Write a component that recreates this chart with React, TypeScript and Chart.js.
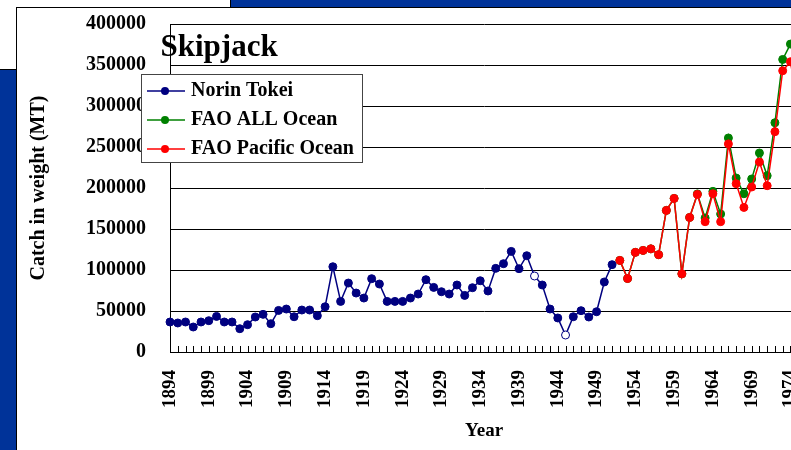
import React, { useEffect, useRef } from 'react';
import { Chart, registerables } from 'chart.js';

Chart.register(...registerables);

// ---- categories ----
const FIRST_YEAR = 1894;
const LAST_YEAR = 1975;
const years: number[] = Array.from({ length: LAST_YEAR - FIRST_YEAR + 1 }, (_, i) => FIRST_YEAR + i);

// ---- series values (metric tonnes) ----
// Norin Tokei, 1894 .. 1951
const norinTokei: number[] = [
  36600, 35400, 36600, 30500, 36600, 38200, 43400, 36600, 36600, 28400,
  33300, 42700, 45900, 34500, 50700, 52400, 43000, 51200, 51200, 44300,
  55200, 104000, 61700, 84100, 71900, 65800, 89400, 82900, 61700, 61700,
  61700, 65800, 70700, 88200, 78800, 73500, 70700, 81700, 69000, 78400,
  86900, 74400, 102000, 107700, 122700, 101600, 117400, 92700, 81700, 52400,
  41500, 20700, 43000, 50400, 42700, 49100, 85400, 106500,
];
const norinHollowYears: number[] = [1941, 1945];

// FAO series, 1952 .. 1975
const FAO_FIRST_YEAR = 1952;
const faoAllOcean: number[] = [
  111700, 89600, 121500, 123900, 125800, 118700, 172700, 187300, 95300, 164100,
  192800, 163400, 195900, 168300, 261000, 212200, 193000, 211000, 242700, 215000,
  279600, 356800, 375500, 345000,
];
const faoPacificOcean: number[] = [
  111700, 89600, 121500, 123900, 125800, 118700, 172700, 187300, 95300, 164100,
  192200, 158900, 193000, 158900, 253800, 205300, 176300, 201200, 231700, 202800,
  268700, 343000, 354000, 298000,
];

// ---- axis settings ----
const Y_MIN = 0;
const Y_MAX = 400000;
const Y_STEP = 50000;
const LABEL_EVERY = 5;

const FONT = "'Liberation Serif', 'Times New Roman', serif";
const NAVY = '#000080';
const GREEN = '#008000';
const RED = '#ff0000';

// canvas is shifted up by this many px on the page
const SHIFT = 12;

export default function App() {
  const ref = useRef<HTMLCanvasElement>(null);

  useEffect(() => {
    const canvas = ref.current;
    if (!canvas) return;

    const norinData = years.map((_, i) => (i < norinTokei.length ? norinTokei[i] : null));
    const faoAllData = years.map((y) => (y >= FAO_FIRST_YEAR ? faoAllOcean[y - FAO_FIRST_YEAR] ?? null : null));
    const faoPacData = years.map((y) => (y >= FAO_FIRST_YEAR ? faoPacificOcean[y - FAO_FIRST_YEAR] ?? null : null));
    const norinFill = years.map((y) => (norinHollowYears.includes(y) ? '#ffffff' : NAVY));

    const overlay = {
      id: 'overlay',
      beforeDatasetsDraw(chart: any) {
        const { ctx, chartArea, scales } = chart;
        const xs = scales.x;
        ctx.save();
        ctx.strokeStyle = '#000';
        ctx.lineWidth = 1;
        ctx.beginPath();
        for (let i = 0; i < years.length; i++) {
          const px = Math.round(xs.getPixelForValue(i)) + 0.5;
          ctx.moveTo(px, chartArea.bottom);
          ctx.lineTo(px, chartArea.bottom - 6);
        }
        ctx.stroke();
        ctx.restore();
      },
      afterDraw(chart: any) {
        const { ctx } = chart;
        ctx.save();
        ctx.translate(0, SHIFT);
        // title
        ctx.fillStyle = '#000';
        ctx.font = `bold 31px ${FONT}`;
        ctx.textBaseline = 'alphabetic';
        ctx.textAlign = 'left';
        ctx.fillText('Skipjack', 160.5, 56);

        // legend box
        const bx = 141, by = 74, bw = 222, bh = 89;
        ctx.fillStyle = '#fff';
        ctx.fillRect(bx, by, bw, bh);
        ctx.strokeStyle = '#444';
        ctx.lineWidth = 1;
        ctx.strokeRect(bx + 0.5, by + 0.5, bw - 1, bh - 1);
        const order = [0, 1, 2];
        const rowsY = [91, 120, 149];
        order.forEach((di, r) => {
          const ds = chart.data.datasets[di];
          const cy = rowsY[r];
          ctx.strokeStyle = ds.borderColor;
          ctx.lineWidth = 1.5;
          ctx.beginPath();
          ctx.moveTo(147, cy);
          ctx.lineTo(185, cy);
          ctx.stroke();
          ctx.fillStyle = ds.borderColor;
          ctx.beginPath();
          ctx.arc(165, cy, 4, 0, Math.PI * 2);
          ctx.fill();
          ctx.fillStyle = '#000';
          ctx.font = `bold 20px ${FONT}`;
          ctx.textBaseline = 'middle';
          ctx.fillText(ds.label, 191, cy);
        });
        ctx.restore();
      },
    };

    const chart = new Chart(canvas, {
      type: 'line',
      data: {
        labels: years.map(String),
        datasets: [
          {
            label: 'Norin Tokei',
            data: norinData,
            borderColor: NAVY,
            backgroundColor: NAVY,
            pointBackgroundColor: norinFill,
            pointBorderColor: NAVY,
            pointRadius: 4,
            pointBorderWidth: 1,
            borderWidth: 1.5,
            order: 2,
          },
          {
            label: 'FAO ALL Ocean',
            data: faoAllData,
            borderColor: GREEN,
            backgroundColor: GREEN,
            pointBackgroundColor: GREEN,
            pointBorderColor: GREEN,
            pointRadius: 4,
            pointBorderWidth: 1,
            borderWidth: 1.5,
            order: 1,
          },
          {
            label: 'FAO Pacific Ocean',
            data: faoPacData,
            borderColor: RED,
            backgroundColor: RED,
            pointBackgroundColor: RED,
            pointBorderColor: RED,
            pointRadius: 4,
            pointBorderWidth: 1,
            borderWidth: 1.5,
            order: 0,
          },
        ],
      },
      options: {
        responsive: false,
        animation: false,
        events: [],
        layout: { padding: { top: 12, right: 10, bottom: 0, left: 0 } },
        plugins: {
          legend: { display: false },
          title: { display: false },
          tooltip: { enabled: false },
        },
        scales: {
          x: {
            type: 'category',
            offset: false,
            grid: { display: true, drawOnChartArea: false, drawTicks: false, color: '#000' },
            border: { display: true, color: '#000', width: 1 },
            ticks: {
              autoSkip: false,
              minRotation: 90,
              maxRotation: 90,
              padding: 18,
              color: '#000',
              font: { family: FONT, size: 19, weight: 'bold' },
              callback: (_v: any, i: number) => ((years[i] - FIRST_YEAR) % LABEL_EVERY === 0 ? String(years[i]) : ''),
            },
            title: {
              display: true,
              text: 'Year',
              color: '#000',
              font: { family: FONT, size: 19, weight: 'bold' },
              padding: { top: 0, bottom: 8 },
            },
            afterFit: (scale: any) => {
              scale.height = 98;
            },
          },
          y: {
            min: Y_MIN,
            max: Y_MAX,
            grid: { color: '#000', lineWidth: 1, drawTicks: false },
            border: { display: true, color: '#000', width: 1 },
            ticks: {
              stepSize: Y_STEP,
              padding: 24,
              color: '#000',
              font: { family: FONT, size: 20, weight: 'bold' },
              callback: (v: any) => String(v),
            },
            title: {
              display: true,
              text: 'Catch in weight (MT)',
              color: '#000',
              font: { family: FONT, size: 20, weight: 'bold' },
              padding: { top: 27, bottom: 0 },
            },
            afterFit: (scale: any) => {
              scale.width = 170;
            },
          },
        },
      },
      plugins: [overlay],
    });

    return () => chart.destroy();
  }, []);

  return (
    <div
      style={{
        position: 'fixed',
        left: 0,
        top: 0,
        width: 791,
        height: 450,
        overflow: 'hidden',
        background: '#003399',
      }}
    >
      <div
        style={{
          position: 'absolute',
          left: -1,
          top: -1,
          width: 232,
          height: 71,
          background: '#ffffff',
          border: '1px solid #000',
          boxSizing: 'border-box',
        }}
      />
      <div
        style={{
          position: 'absolute',
          left: 16,
          top: 7,
          width: 860,
          height: 470,
          background: '#ffffff',
          border: '1px solid #000',
          boxSizing: 'border-box',
        }}
      />
      <canvas
        ref={ref}
        width={839}
        height={450 + SHIFT}
        style={{ position: 'absolute', left: 0, top: -SHIFT, width: 839, height: 450 + SHIFT }}
      />
    </div>
  );
}
